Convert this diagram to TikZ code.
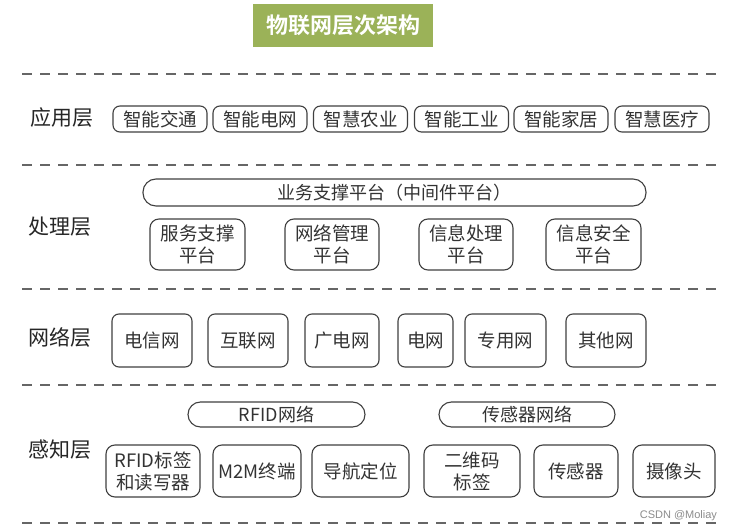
\documentclass[tikz,border=0pt]{standalone}
\usepackage{fontspec}
\newfontfamily\cjk{Noto Sans CJK SC}
\newfontfamily\cjkb{Noto Sans CJK SC Bold}
\newfontfamily\wm{Liberation Sans}
\begin{document}
\begin{tikzpicture}[x=1pt,y=-1pt,
  every node/.style={inner sep=0pt, outer sep=0pt},
  sep/.style={draw=black!60, line width=1.2pt, dash pattern=on 10pt off 8pt},
  lay/.style={font=\cjk\fontsize{21}{24}\selectfont, text=black!85},
  bx/.style={draw=black!75, line width=1.1pt, rounded corners=7pt, align=center,
    font=\cjk\fontsize{18.5}{22}\selectfont, text=black!80},
  pill/.style={draw=black!75, line width=1.1pt, rounded corners=13pt, align=center,
    font=\cjk\fontsize{18}{21}\selectfont, text=black!80}
]
\useasboundingbox (0,0) rectangle (732,532);
\fill[white] (0,0) rectangle (732,532);
% title
\node[fill={rgb,255:red,155;green,178;blue,88}, minimum width=180pt, minimum height=43pt,
  text=white, font=\cjkb\fontsize{22}{24}\selectfont] (title) at (343,25.5) {物联网层次架构};
% separators
\coordinate (l1a) at (22,74);  \coordinate (l1b) at (720,74);
\coordinate (l2a) at (22,165); \coordinate (l2b) at (720,165);
\coordinate (l3a) at (22,289); \coordinate (l3b) at (720,289);
\coordinate (l4a) at (22,385); \coordinate (l4b) at (720,385);
\coordinate (l5a) at (22,523); \coordinate (l5b) at (720,523);
\draw[sep] (l1a) -- (l1b);
\draw[sep] (l2a) -- (l2b);
\draw[sep] (l3a) -- (l3b);
\draw[sep] (l4a) -- (l4b);
\draw[sep] (l5a) -- (l5b);
% layer labels
\node[lay] (app) at (62,118) {应用层};
\node[lay] (proc) at (60,227) {处理层};
\node[lay] (net) at (60,337) {网络层};
\node[lay] (perc) at (60,450) {感知层};
% application layer
\node[bx, minimum width=94pt, minimum height=26pt] (a1) at (160,119) {智能交通};
\node[bx, minimum width=94pt, minimum height=26pt] (a2) at (260,119) {智能电网};
\node[bx, minimum width=94pt, minimum height=26pt] (a3) at (360.5,119) {智慧农业};
\node[bx, minimum width=94pt, minimum height=26pt] (a4) at (461.5,119) {智能工业};
\node[bx, minimum width=94pt, minimum height=26pt] (a5) at (561,119) {智能家居};
\node[bx, minimum width=94pt, minimum height=26pt] (a6) at (662,119) {智慧医疗};
% processing layer
\node[pill, minimum width=503pt, minimum height=27pt] (mid) at (394.5,192.5) {业务支撑平台（中间件平台）};
\node[bx, minimum width=95pt, minimum height=51pt, rounded corners=9pt] (p1) at (197.5,244.5) {服务支撑\\平台};
\node[bx, minimum width=94pt, minimum height=51pt, rounded corners=9pt] (p2) at (332,244.5) {网络管理\\平台};
\node[bx, minimum width=94pt, minimum height=51pt, rounded corners=9pt] (p3) at (466,244.5) {信息处理\\平台};
\node[bx, minimum width=95pt, minimum height=51pt, rounded corners=9pt] (p4) at (593.5,244.5) {信息安全\\平台};
% network layer
\node[bx, minimum width=80pt, minimum height=53pt] (n1) at (152,340.5) {电信网};
\node[bx, minimum width=80pt, minimum height=53pt] (n2) at (248,340.5) {互联网};
\node[bx, minimum width=74pt, minimum height=53pt] (n3) at (342,340.5) {广电网};
\node[bx, minimum width=55pt, minimum height=53pt] (n4) at (425.5,340.5) {电网};
\node[bx, minimum width=81pt, minimum height=53pt] (n5) at (505.5,340.5) {专用网};
\node[bx, minimum width=80pt, minimum height=53pt] (n6) at (606,340.5) {其他网};
% perception layer
\node[pill, minimum width=177pt, minimum height=25pt, rounded corners=12.5pt] (rfidnet) at (276.5,414.5) {RFID网络};
\node[pill, minimum width=176pt, minimum height=25pt, rounded corners=12.5pt] (snet) at (527,414.5) {传感器网络};
\node[bx, minimum width=94pt, minimum height=52pt, rounded corners=9pt] (s1) at (153,471) {RFID标签\\和读写器};
\node[bx, minimum width=88pt, minimum height=52pt, rounded corners=9pt] (s2) at (257,471) {M2M终端};
\node[bx, minimum width=97pt, minimum height=52pt, rounded corners=9pt] (s3) at (360.5,471) {导航定位};
\node[bx, minimum width=96pt, minimum height=52pt, rounded corners=9pt] (s4) at (472,471) {二维码\\标签};
\node[bx, minimum width=84pt, minimum height=52pt, rounded corners=9pt] (s5) at (576,471) {传感器};
\node[bx, minimum width=82pt, minimum height=52pt, rounded corners=9pt] (s6) at (674,471) {摄像头};
% watermark
\node[font=\wm\fontsize{11}{13}\selectfont, text=black!45, anchor=east] (wmk) at (717,516) {CSDN @Moliay};
\end{tikzpicture}
\end{document}
